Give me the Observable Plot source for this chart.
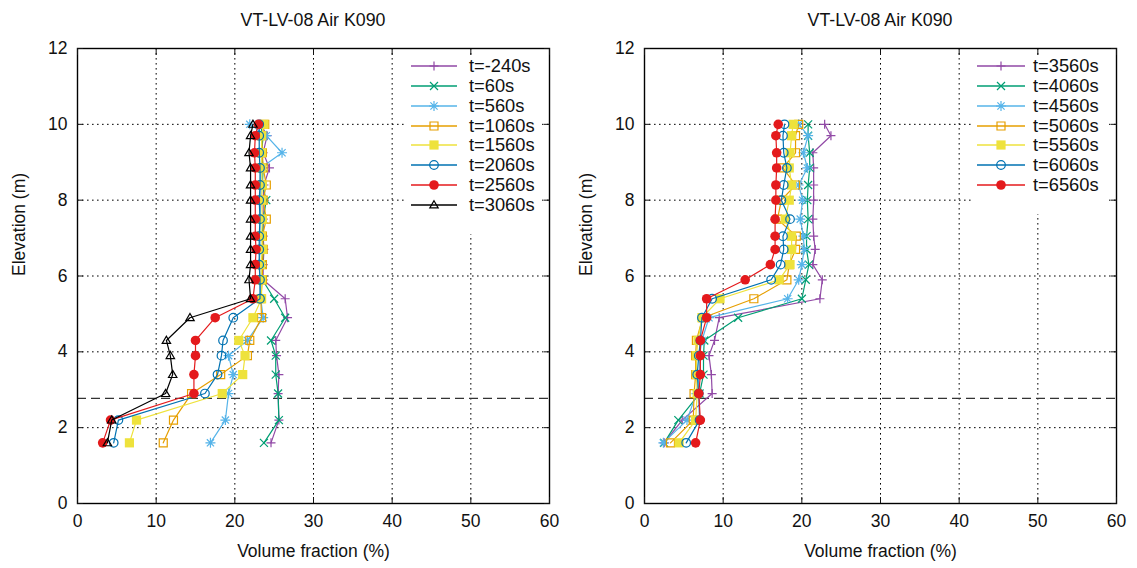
<!DOCTYPE html>
<html>
<head>
<meta charset="utf-8">
<script src="https://cdn.jsdelivr.net/npm/d3@7"></script>
<script src="https://cdn.jsdelivr.net/npm/@observablehq/plot@0.6"></script>
<style>
  body { margin: 0; background: #fff; font-family: "Liberation Sans", Arial, sans-serif; }
  #wrap { display: flex; width: 1137px; height: 568px; overflow: hidden; }
  .panel { position: relative; height: 568px; }
  .title { height: 36px; line-height: 40px; text-align: center; font-size: 17.8px; color: #111; overflow: visible; }
  .legend { position: absolute; background: #fff; }
  .legend .row { position: absolute; left: 0; height: 20px; }
  .legend .row span { position: absolute; font-size: 18.3px; color: #111; white-space: nowrap; line-height: 20px; top: 0; }
</style>
</head>
<body>
<div id="wrap"></div>
<script>
// ---------------- data ----------------
const panelTitle = "VT-LV-08 Air K090";
const xLabel = "Volume fraction (%)";
const yLabel = "Elevation (m)";
const xTicks = [0, 10, 20, 30, 40, 50, 60];
const yTicks = [0, 2, 4, 6, 8, 10, 12];
const xGrid = [10, 20, 30, 40, 50];
const yGrid = [2, 4, 6, 8, 10];
const dashedLevel = 2.77;

const elevations = [1.6, 2.2, 2.9, 3.4, 3.9, 4.3, 4.9, 5.4, 5.9, 6.3, 6.7, 7.05, 7.5, 8.0, 8.4, 8.85, 9.25, 9.7, 10.0];

// left panel
const leftLabels = ["t=-240s", "t=60s", "t=560s", "t=1060s", "t=1560s", "t=2060s", "t=2560s", "t=3060s"];
const vfLm240  = [24.6, 25.6, 25.5, 25.6, 25.3, 25.2, 26.7, 26.4, 23.6, 23.6, 23.7, 23.6, 23.6, 23.6, 23.7, 24.4, 23.6, 24.1, 23.3];
const vfL60    = [23.7, 25.6, 25.5, 25.2, 25.2, 24.6, 26.4, 25.0, 23.5, 23.5, 23.6, 23.5, 23.6, 24.0, 23.5, 23.6, 23.4, 23.6, 23.2];
const vfL560   = [16.9, 18.8, 19.2, 19.8, 19.2, 21.6, 23.6, 23.3, 23.2, 23.1, 23.2, 23.2, 23.2, 23.3, 23.3, 23.3, 26.0, 24.0, 21.9];
const vfL1060  = [10.9, 12.2, 14.5, 18.2, 21.6, 21.9, 23.4, 23.3, 23.5, 23.5, 23.6, 23.5, 24.0, 23.6, 24.0, 23.6, 23.5, 23.4, 23.8];
const vfL1560  = [6.6, 7.5, 18.4, 21.0, 21.3, 20.5, 22.3, 23.4, 23.4, 23.3, 23.5, 23.4, 23.5, 23.4, 23.5, 23.4, 23.4, 23.4, 23.7];
const vfL2060  = [4.6, 5.2, 16.2, 17.8, 18.3, 18.5, 19.8, 23.2, 23.2, 23.1, 23.1, 23.1, 23.2, 23.1, 23.2, 23.2, 23.1, 23.1, 23.1];
const vfL2560  = [3.2, 4.2, 14.8, 14.8, 15.0, 15.0, 17.5, 22.3, 22.6, 22.6, 22.7, 22.6, 22.6, 22.6, 22.6, 22.6, 22.5, 22.6, 23.0];
const vfL3060  = [3.8, 4.35, 11.2, 12.1, 11.8, 11.3, 14.3, 22.0, 21.8, 22.0, 22.0, 22.0, 22.0, 22.0, 22.0, 22.0, 21.8, 22.0, 22.3];

// right panel
const rightLabels = ["t=3560s", "t=4060s", "t=4560s", "t=5060s", "t=5560s", "t=6060s", "t=6560s"];
const vfR3560 = [2.5, 4.8, 8.6, 8.5, 8.2, 8.9, 9.5, 22.3, 22.6, 21.4, 21.7, 21.5, 21.4, 21.5, 21.5, 21.5, 21.4, 23.7, 22.9];
const vfR4060 = [2.5, 4.3, 7.0, 7.5, 7.5, 7.6, 11.9, 20.0, 20.5, 20.9, 20.6, 20.6, 20.8, 20.7, 20.8, 21.0, 21.0, 20.8, 20.8];
const vfR4560 = [2.4, 5.4, 6.6, 7.0, 7.0, 7.3, 8.2, 18.2, 19.6, 20.0, 20.3, 20.2, 19.8, 20.1, 19.6, 20.7, 20.2, 20.8, 19.6];
const vfR5060 = [3.3, 6.2, 6.3, 6.5, 6.5, 6.6, 7.4, 13.9, 18.1, 18.4, 19.2, 19.3, 16.9, 17.4, 19.2, 17.6, 19.2, 19.2, 19.6];
const vfR5560 = [4.4, 6.5, 6.7, 6.6, 6.6, 6.8, 7.3, 9.6, 17.1, 18.5, 18.7, 18.7, 17.9, 18.4, 18.7, 18.4, 18.5, 18.7, 18.9];
const vfR6060 = [5.3, 7.0, 6.9, 6.7, 6.9, 7.1, 7.3, 8.6, 16.1, 17.3, 17.7, 17.6, 18.5, 17.4, 17.7, 18.1, 17.7, 17.6, 17.8];
const vfR6560 = [6.5, 7.1, 6.9, 7.1, 7.1, 7.1, 7.9, 7.9, 12.8, 16.0, 16.6, 16.6, 16.6, 16.7, 16.7, 16.8, 16.8, 16.7, 17.0];

const leftSeries = [vfLm240, vfL60, vfL560, vfL1060, vfL1560, vfL2060, vfL2560, vfL3060];
const rightSeries = [vfR3560, vfR4060, vfR4560, vfR5060, vfR5560, vfR6060, vfR6560];

// ---------------- symbols (gnuplot-like) ----------------
const SYM = {
  plus: { draw(c, s) { const h = Math.sqrt(s / Math.PI); c.moveTo(-h, 0); c.lineTo(h, 0); c.moveTo(0, -h); c.lineTo(0, h); } },
  cross: { draw(c, s) { const h = Math.sqrt(s / Math.PI); c.moveTo(-h, -h); c.lineTo(h, h); c.moveTo(-h, h); c.lineTo(h, -h); } },
  star: { draw(c, s) { const h = Math.sqrt(s / Math.PI); const k = h * 0.72;
    c.moveTo(-h, 0); c.lineTo(h, 0); c.moveTo(0, -h); c.lineTo(0, h);
    c.moveTo(-k, -k); c.lineTo(k, k); c.moveTo(-k, k); c.lineTo(k, -k); } },
  box: { draw(c, s) { const h = Math.sqrt(s / Math.PI); c.moveTo(-h, -h); c.lineTo(h, -h); c.lineTo(h, h); c.lineTo(-h, h); c.closePath(); } },
  circle: { draw(c, s) { const h = Math.sqrt(s / Math.PI); c.moveTo(h, 0); c.arc(0, 0, h, 0, 2 * Math.PI); } },
  triangle: { draw(c, s) { const h = Math.sqrt(s / Math.PI); c.moveTo(0, -h); c.lineTo(h, h * 0.7); c.lineTo(-h, h * 0.7); c.closePath(); } }
};

const styles = [
  { color: "#9149a6", symbol: "plus", fill: false, r: 4.5 },
  { color: "#009e73", symbol: "cross", fill: false, r: 4 },
  { color: "#56b4e9", symbol: "star", fill: false, r: 5 },
  { color: "#e69f00", symbol: "box", fill: false, r: 4 },
  { color: "#eee23c", symbol: "box", fill: true, r: 4.6 },
  { color: "#0072b2", symbol: "circle", fill: false, r: 4.3 },
  { color: "#e41a1c", symbol: "circle", fill: true, r: 4.8 },
  { color: "#000000", symbol: "triangle", fill: false, r: 4.2 }
];

const fontFamily = "'Liberation Sans', Arial, sans-serif";

function buildPanel(seriesValues, labels, m, legendPos) {
  const W = 568 + (m.extra || 0);
  const panel = document.createElement("div");
  panel.className = "panel";
  panel.style.width = W + "px";

  const title = document.createElement("div");
  title.className = "title";
  title.style.paddingLeft = m.left + "px";
  title.style.width = (W - m.left - m.right) + "px";
  title.textContent = panelTitle;
  panel.appendChild(title);

  const marks = [
    Plot.gridX(xGrid, { stroke: "#000", strokeOpacity: 1, strokeWidth: 1, strokeDasharray: "1.6,3.4" }),
    Plot.gridY(yGrid, { stroke: "#000", strokeOpacity: 1, strokeWidth: 1, strokeDasharray: "1.6,3.4" }),
    Plot.ruleY([dashedLevel], { stroke: "#333", strokeWidth: 1.2, strokeDasharray: "9,5" })
  ];
  seriesValues.forEach((vals, i) => {
    const st = styles[i];
    const rows = elevations.map((e, j) => ({ elev: e, vf: vals[j] }));
    marks.push(Plot.line(rows, { x: "vf", y: "elev", stroke: st.color, strokeWidth: 1.2 }));
    marks.push(Plot.dot(rows, {
      x: "vf", y: "elev", r: st.r, symbol: SYM[st.symbol],
      fill: st.fill ? st.color : "none",
      stroke: st.fill ? "none" : st.color,
      strokeWidth: 1.2
    }));
  });
  marks.push(
    Plot.frame({ stroke: "#000", strokeWidth: 1.4 }),
    Plot.axisX(xTicks, { anchor: "bottom", tickSize: 0, tickPadding: 11, label: null }),
    Plot.axisY(yTicks, { anchor: "left", tickSize: 0, tickPadding: 10, label: null }),
    Plot.axisX(xTicks, { anchor: "bottom", tickSize: -6, tickFormat: () => "", label: null }),
    Plot.axisX(xTicks, { anchor: "top", tickSize: -6, tickFormat: () => "", label: null }),
    Plot.axisY(yTicks, { anchor: "left", tickSize: -6, tickFormat: () => "", label: null }),
    Plot.axisY(yTicks, { anchor: "right", tickSize: -6, tickFormat: () => "", label: null }),
    Plot.text([xLabel], { text: d => d, frameAnchor: "bottom", dy: 53, fontSize: 17.5, fill: "#111" }),
    Plot.text([yLabel], { text: d => d, frameAnchor: "left", rotate: -90, dx: -58, fontSize: 17.5, fill: "#111" })
  );

  const svg = Plot.plot({
    width: W,
    height: 532,
    marginTop: 12,
    marginBottom: 65,
    marginLeft: m.left,
    marginRight: m.right,
    x: { domain: [0, 60], label: null },
    y: { domain: [0, 12], label: null },
    style: { fontSize: "17.5px", fontFamily, color: "#111", background: "white", overflow: "visible" },
    marks
  });
  svg.style.display = "block";
  panel.appendChild(svg);

  // legend
  const lg = document.createElement("div");
  lg.className = "legend";
  lg.style.left = legendPos.boxLeft + "px";
  lg.style.top = legendPos.boxTop + "px";
  lg.style.width = legendPos.boxWidth + "px";
  lg.style.height = (labels.length * 20 + 18) + "px";
  labels.forEach((lab, i) => {
    const st = styles[i];
    const cy = legendPos.firstRow - legendPos.boxTop + i * 19.85;
    const row = document.createElement("div");
    row.className = "row";
    row.style.top = (cy - 10) + "px";
    row.style.width = legendPos.boxWidth + "px";
    const p = d3.path();
    SYM[st.symbol].draw(p, Math.PI * st.r * st.r);
    const x0 = legendPos.lineX0 - legendPos.boxLeft, x1 = legendPos.lineX1 - legendPos.boxLeft;
    const xm = (x0 + x1) / 2;
    const ns = "http://www.w3.org/2000/svg";
    const s = document.createElementNS(ns, "svg");
    s.setAttribute("width", legendPos.boxWidth);
    s.setAttribute("height", 20);
    s.style.position = "absolute"; s.style.left = "0px"; s.style.top = "0px";
    s.innerHTML = `<line x1="${x0}" x2="${x1}" y1="10" y2="10" stroke="${st.color}" stroke-width="1.3"/>` +
      `<path d="${p.toString()}" transform="translate(${xm},10)" fill="${st.fill ? st.color : "none"}" stroke="${st.fill ? "none" : st.color}" stroke-width="1.2"/>`;
    row.appendChild(s);
    const t = document.createElement("span");
    t.textContent = lab;
    t.style.left = (legendPos.textX - legendPos.boxLeft) + "px";
    row.appendChild(t);
    lg.appendChild(row);
  });
  panel.appendChild(lg);
  return panel;
}

const wrap = document.getElementById("wrap");
wrap.appendChild(buildPanel(leftSeries, leftLabels, { left: 77, right: 19 },
  { boxLeft: 405, boxTop: 56, boxWidth: 136, firstRow: 66, lineX0: 411, lineX1: 457, textX: 469 }));
wrap.appendChild(buildPanel(rightSeries, rightLabels, { left: 76, right: 21, extra: 1 },
  { boxLeft: 403, boxTop: 56, boxWidth: 138, firstRow: 66, lineX0: 409, lineX1: 457, textX: 465 }));
</script>
</body>
</html>
